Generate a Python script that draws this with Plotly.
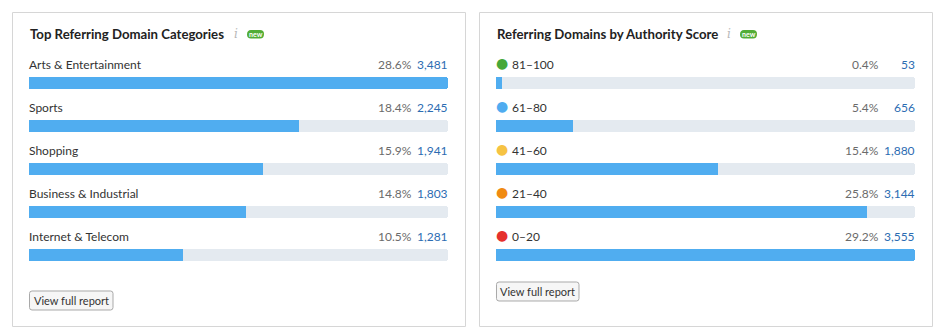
import plotly.graph_objects as go

# ---- data ----
left_title = "Top Referring Domain Categories"
left_categories = ["Arts & Entertainment", "Sports", "Shopping", "Business & Industrial", "Internet & Telecom"]
left_percents = ["28.6%", "18.4%", "15.9%", "14.8%", "10.5%"]
left_counts = [3481, 2245, 1941, 1803, 1281]

right_title = "Referring Domains by Authority Score"
right_categories = ["81–100", "61–80", "41–60", "21–40", "0–20"]
right_percents = ["0.4%", "5.4%", "15.4%", "25.8%", "29.2%"]
right_counts = [53, 656, 1880, 3144, 3555]
right_dot_colors = ["#45a83a", "#4facf0", "#f6c343", "#f08a12", "#e5302e"]

button_text = "View full report"

# ---- style ----
W, H = 941, 336
FONT = "Lato"
BAR = "#50adf0"
TRACK = "#e4eaf0"
PCT = "#6b6b6b"
CNT = "#2c6cb2"
TXT = "#333333"

fig = go.Figure()

# row geometry (pixels)
row0 = 83.3
pitch = 43.0
y_top = -row0 / pitch
y_bot = (H - row0) / pitch

panels = [
    dict(x0=29, x1=448, cats=left_categories, pcts=left_percents, counts=left_counts,
         title=left_title, dots=None, xa="x", ya="y", xname="xaxis", yname="yaxis",
         box=(12.5, 465.5), title_w=198, btn=(29.5, 113, 291, 310)),
    dict(x0=496, x1=915, cats=right_categories, pcts=right_percents, counts=right_counts,
         title=right_title, dots=right_dot_colors, xa="x2", ya="y2", xname="xaxis2", yname="yaxis2",
         box=(479.5, 932.5), title_w=224, btn=(496.5, 579, 282, 301)),
]

annotations = []
shapes = []


def pt(x, y):
    return f"{x / W:.5f},{1 - y / H:.5f}"


for p in panels:
    mx = max(p["counts"])
    # track
    fig.add_trace(go.Bar(
        x=[mx] * len(p["cats"]), y=p["cats"], orientation="h",
        marker=dict(color=TRACK, cornerradius=3, line=dict(width=0)),
        width=0.28, xaxis=p["xa"], yaxis=p["ya"], hoverinfo="skip", showlegend=False))
    # value bar
    fig.add_trace(go.Bar(
        x=p["counts"], y=p["cats"], orientation="h",
        marker=dict(color=BAR, cornerradius=3, line=dict(width=0)),
        width=0.28, xaxis=p["xa"], yaxis=p["ya"], showlegend=False))

    fig.layout[p["xname"]] = dict(domain=[p["x0"] / W, p["x1"] / W], range=[0, mx],
                                  visible=False, fixedrange=True, anchor=p["ya"])
    fig.layout[p["yname"]] = dict(domain=[0, 1], range=[y_bot, y_top], visible=False,
                                  categoryorder="array", categoryarray=p["cats"],
                                  anchor=p["xa"], fixedrange=True)

    for i, c in enumerate(p["cats"]):
        if p["dots"]:
            annotations.append(dict(xref=p["xa"], yref=p["ya"], x=0, y=c, xanchor="left",
                                    yanchor="middle", text="●", showarrow=False,
                                    font=dict(family="DejaVu Sans", size=14, color=p["dots"][i]),
                                    xshift=-2, yshift=20))
            annotations.append(dict(xref=p["xa"], yref=p["ya"], x=0, y=c, xanchor="left",
                                    yanchor="middle", text=c, showarrow=False,
                                    font=dict(family=FONT, size=12, color=TXT),
                                    xshift=14, yshift=19))
        else:
            annotations.append(dict(xref=p["xa"], yref=p["ya"], x=0, y=c, xanchor="left",
                                    yanchor="middle", text=c, showarrow=False,
                                    font=dict(family=FONT, size=12, color=TXT),
                                    xshift=-2, yshift=19))
        annotations.append(dict(xref=p["xa"], yref=p["ya"], x=mx, y=c, xanchor="right",
                                yanchor="middle", text=p["pcts"][i], showarrow=False,
                                font=dict(family=FONT, size=12, color=PCT),
                                xshift=-34, yshift=19))
        annotations.append(dict(xref=p["xa"], yref=p["ya"], x=mx, y=c, xanchor="right",
                                yanchor="middle", text=f"{p['counts'][i]:,}", showarrow=False,
                                font=dict(family=FONT, size=12, color=CNT),
                                xshift=2, yshift=19))

    # panel border
    bx0, bx1 = p["box"]
    shapes.append(dict(type="rect", xref="paper", yref="paper", layer="below",
                       x0=bx0 / W, x1=bx1 / W, y0=1 - 326.5 / H, y1=1 - 12.5 / H,
                       line=dict(color="#d6d6d6", width=1), fillcolor="white"))
    # title
    tx = p["x0"] - 1
    annotations.append(dict(xref="paper", yref="paper", x=tx / W, y=1 - 34 / H,
                            xanchor="left", yanchor="middle", text=f"<b>{p['title']}</b>",
                            showarrow=False, font=dict(family=FONT, size=13.2, color="#222222")))
    # info icon
    ix = tx + p["title_w"] + 10
    annotations.append(dict(xref="paper", yref="paper", x=ix / W, y=1 - 34 / H,
                            xanchor="center", yanchor="middle", text="<i>i</i>",
                            showarrow=False, font=dict(family="DejaVu Serif", size=12, color="#b8b8b8")))
    # new badge
    bx = ix + 11
    r = 4
    bw, by0, by1 = 17, 30, 38.5
    path = (f"M{pt(bx + r, by0)} L{pt(bx + bw - r, by0)} Q{pt(bx + bw, by0)} {pt(bx + bw, by0 + r)} "
            f"Q{pt(bx + bw, by1)} {pt(bx + bw - r, by1)} L{pt(bx + r, by1)} Q{pt(bx, by1)} {pt(bx, by1 - r)} "
            f"Q{pt(bx, by0)} {pt(bx + r, by0)} Z")
    shapes.append(dict(type="path", xref="paper", yref="paper", path=path,
                       fillcolor="#52ad36", line=dict(width=0)))
    annotations.append(dict(xref="paper", yref="paper", x=(bx + bw / 2) / W, y=1 - 34.3 / H,
                            xanchor="center", yanchor="middle", text="<b>new</b>",
                            showarrow=False, font=dict(family=FONT, size=7, color="white")))
    # button
    b0, b1, t0, t1 = p["btn"]
    r2 = 2.5
    bpath = (f"M{pt(b0 + r2, t0)} L{pt(b1 - r2, t0)} Q{pt(b1, t0)} {pt(b1, t0 + r2)} "
             f"L{pt(b1, t1 - r2)} Q{pt(b1, t1)} {pt(b1 - r2, t1)} L{pt(b0 + r2, t1)} "
             f"Q{pt(b0, t1)} {pt(b0, t1 - r2)} L{pt(b0, t0 + r2)} Q{pt(b0, t0)} {pt(b0 + r2, t0)} Z")
    shapes.append(dict(type="path", xref="paper", yref="paper", path=bpath,
                       line=dict(color="#a9a9a9", width=1), fillcolor="#f6f6f6"))
    annotations.append(dict(xref="paper", yref="paper", x=(b0 + b1) / 2 / W, y=1 - (t0 + t1) / 2 / H,
                            xanchor="center", yanchor="middle", text=button_text,
                            showarrow=False, font=dict(family=FONT, size=11, color="#333333")))

fig.update_layout(
    width=W, height=H, margin=dict(l=0, r=0, t=0, b=0),
    paper_bgcolor="white", plot_bgcolor="rgba(0,0,0,0)",
    barmode="overlay", bargap=0, showlegend=False,
    annotations=annotations, shapes=shapes,
    font=dict(family=FONT),
)

fig.write_html("out.html", config={"displayModeBar": False})
